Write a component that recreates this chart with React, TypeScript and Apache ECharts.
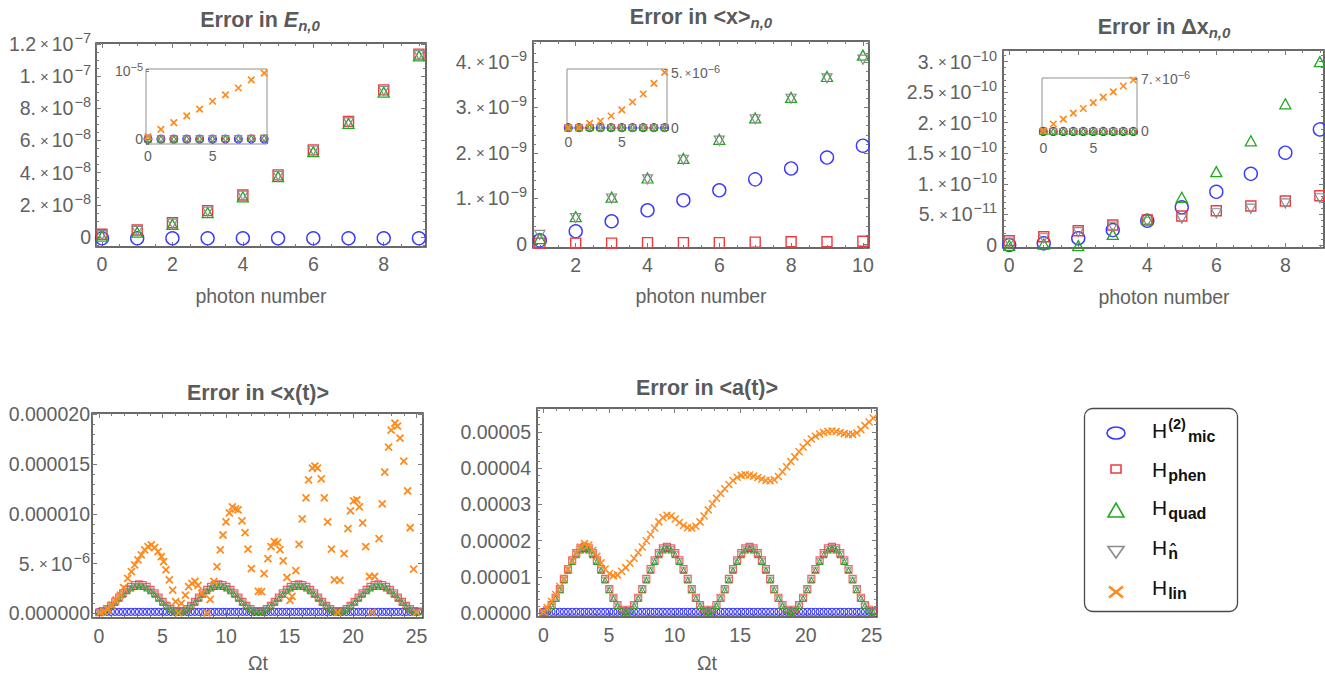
import React, { useEffect, useRef } from 'react';
import * as echarts from 'echarts';

const FONT = '"Liberation Sans", Arial, Helvetica, sans-serif';
const TXT = '#616161';
const TITLE_C = '#5a5a5a';
const FRAME = '#383838';
const TICK_C = '#7a7a7a';
const INSET_FRAME = '#8f8f8f';

const BLUE = '#3a3aff';
const RED = '#ee3b40';
const GREEN = '#22a622';
const GRAY = '#8c8c8c';
const ORANGE = '#ff8b1f';

// ---------------- photon-number panels ----------------
const nA = [0, 1, 2, 3, 4, 5, 6, 7, 8, 9];
const nB = [1, 2, 3, 4, 5, 6, 7, 8, 9, 10];
const nInset = [0, 1, 2, 3, 4, 5, 6, 7, 8, 9];

// Error in E_{n,0}  (units of 1e-8)
const eMic = [-0.08, -0.08, -0.08, -0.08, -0.08, -0.08, -0.08, -0.08, -0.08, -0.08];
const ePhen = [0.17, 0.44, 0.89, 1.64, 2.61, 3.86, 5.41, 7.17, 9.14, 11.36];
const eQuad = [0.05, 0.3, 0.78, 1.52, 2.5, 3.75, 5.3, 7.05, 9.0, 11.25];
const eNhat = [0.12, 0.38, 0.83, 1.58, 2.56, 3.8, 5.36, 7.12, 9.08, 11.3];
// inset (units of 1e-5)
const eLin = [0.034, 0.14, 0.24, 0.34, 0.44, 0.555, 0.65, 0.75, 0.87, 0.97];

// Error in <x>_{n,0}  (units of 1e-9)
const xMic = [0.08, 0.28, 0.5, 0.74, 0.96, 1.18, 1.42, 1.66, 1.9, 2.16];
const xPhen = [0.02, 0.02, 0.02, 0.03, 0.03, 0.03, 0.04, 0.05, 0.05, 0.06];
const xQuad = [0.12, 0.6, 1.03, 1.45, 1.88, 2.3, 2.77, 3.22, 3.68, 4.15];
const xNhat = [0.2, 0.57, 1.0, 1.42, 1.85, 2.27, 2.74, 3.19, 3.64, 4.05];
// inset (units of 1e-6)
const xLin = [0, 0.02, 0.4, 0.61, 1.07, 1.62, 2.35, 3.08, 4.06, 5.06];

// Error in Δx_{n,0}  (units of 1e-11)
const dMic = [0, 0.27, 1.1, 2.45, 3.97, 6.16, 8.7, 11.65, 15.1, 18.9];
const dPhen = [0.7, 1.36, 2.34, 3.27, 4.1, 4.74, 5.6, 6.37, 7.2, 8.06];
const dQuad = [-0.05, 0.15, -0.1, 1.74, 4.25, 7.8, 12.0, 17.05, 23.1, 30.0];
const dNhat = [0.4, 1.1, 2.1, 3.0, 3.8, 4.3, 5.2, 5.95, 6.8, 7.65];
// inset (units of 1e-6)
const dLin = [0.1, 1.0, 1.65, 2.45, 3.08, 3.88, 4.6, 5.3, 6.1, 6.9];

// ---------------- time panels ----------------
const times = [
  0, 0.31, 0.63, 0.94, 1.26, 1.57, 1.88, 2.2, 2.51, 2.83,
  3.14, 3.46, 3.77, 4.08, 4.4, 4.71, 5.03, 5.34, 5.65, 5.97,
  6.28, 6.6, 6.91, 7.23, 7.54, 7.85, 8.17, 8.48, 8.8, 9.11,
  9.42, 9.74, 10.05, 10.37, 10.68, 11.0, 11.31, 11.62, 11.94, 12.25,
  12.57, 12.88, 13.19, 13.51, 13.82, 14.14, 14.45, 14.77, 15.08, 15.39,
  15.71, 16.02, 16.34, 16.65, 16.96, 17.28, 17.59, 17.91, 18.22, 18.54,
  18.85, 19.16, 19.48, 19.79, 20.11, 20.42, 20.73, 21.05, 21.36, 21.68,
  21.99, 22.31, 22.62, 22.93, 23.25, 23.56, 23.88, 24.19, 24.5, 24.82,
  25.13,
];

// Error in <x(t)>  (units of 1e-6)
const xtMic = [
  0.15, 0.15, 0.15, 0.15, 0.15, 0.15, 0.15, 0.15, 0.15, 0.15,
  0.15, 0.15, 0.15, 0.15, 0.15, 0.15, 0.15, 0.15, 0.15, 0.15,
  0.15, 0.15, 0.15, 0.15, 0.15, 0.15, 0.15, 0.15, 0.15, 0.15,
  0.15, 0.15, 0.15, 0.15, 0.15, 0.15, 0.15, 0.15, 0.15, 0.15,
  0.15, 0.15, 0.15, 0.15, 0.15, 0.15, 0.15, 0.15, 0.15, 0.15,
  0.15, 0.15, 0.15, 0.15, 0.15, 0.15, 0.15, 0.15, 0.15, 0.15,
  0.15, 0.15, 0.15, 0.15, 0.15, 0.15, 0.15, 0.15, 0.15, 0.15,
  0.15, 0.15, 0.15, 0.15, 0.15, 0.15, 0.15, 0.15, 0.15, 0.15,
  0.15,
];
const xtPhen = [
  0.1, 0.26, 0.46, 0.78, 1.18, 1.6, 2.02, 2.39, 2.68, 2.87, 2.93, 2.87, 2.68, 2.39, 2.02, 1.6, 1.18, 0.78, 0.46, 0.26,
  0.2, 0.26, 0.46, 0.78, 1.18, 1.6, 2.02, 2.39, 2.68, 2.87, 2.93, 2.87, 2.68, 2.39, 2.02, 1.6, 1.18, 0.78, 0.46, 0.26,
  0.2, 0.26, 0.46, 0.78, 1.18, 1.6, 2.02, 2.39, 2.68, 2.87, 2.93, 2.87, 2.68, 2.39, 2.02, 1.6, 1.18, 0.78, 0.46, 0.26,
  0.2, 0.26, 0.46, 0.78, 1.18, 1.6, 2.02, 2.39, 2.68, 2.87, 2.93, 2.87, 2.68, 2.39, 2.02, 1.6, 1.18, 0.78, 0.46, 0.26,
  0.2,
];
const xtQuad = [
  0.05, 0.18, 0.38, 0.69, 1.07, 1.47, 1.87, 2.22, 2.49, 2.65, 2.7, 2.65, 2.49, 2.22, 1.87, 1.47, 1.07, 0.69, 0.38, 0.18,
  0.12, 0.18, 0.38, 0.69, 1.07, 1.47, 1.87, 2.22, 2.49, 2.65, 2.7, 2.65, 2.49, 2.22, 1.87, 1.47, 1.07, 0.69, 0.38, 0.18,
  0.12, 0.18, 0.38, 0.69, 1.07, 1.47, 1.87, 2.22, 2.49, 2.65, 2.7, 2.65, 2.49, 2.22, 1.87, 1.47, 1.07, 0.69, 0.38, 0.18,
  0.12, 0.18, 0.38, 0.69, 1.07, 1.47, 1.87, 2.22, 2.49, 2.65, 2.7, 2.65, 2.49, 2.22, 1.87, 1.47, 1.07, 0.69, 0.38, 0.18,
  0.12,
];
const xtNhat = [
  0.08, 0.22, 0.42, 0.74, 1.13, 1.54, 1.95, 2.31, 2.59, 2.77, 2.82, 2.77, 2.59, 2.31, 1.95, 1.54, 1.13, 0.74, 0.42, 0.22,
  0.16, 0.22, 0.42, 0.74, 1.13, 1.54, 1.95, 2.31, 2.59, 2.77, 2.82, 2.77, 2.59, 2.31, 1.95, 1.54, 1.13, 0.74, 0.42, 0.22,
  0.16, 0.22, 0.42, 0.74, 1.13, 1.54, 1.95, 2.31, 2.59, 2.77, 2.82, 2.77, 2.59, 2.31, 1.95, 1.54, 1.13, 0.74, 0.42, 0.22,
  0.16, 0.22, 0.42, 0.74, 1.13, 1.54, 1.95, 2.31, 2.59, 2.77, 2.82, 2.77, 2.59, 2.31, 1.95, 1.54, 1.13, 0.74, 0.42, 0.22,
  0.16,
];
const xtLinT = [
  0.1, 0.37, 0.71, 1.02, 1.34, 1.68, 1.94, 2.26, 2.55, 2.81,
  3.07, 3.33, 3.6, 3.86, 4.12, 4.38, 4.65, 4.91, 5.09, 5.27,
  5.54, 5.8, 6.03, 6.27, 6.48, 6.8, 7.06, 7.32, 7.55, 7.8,
  8.1, 8.5, 8.75, 9.05, 9.29, 9.55, 9.76, 10.0, 10.26, 10.5,
  10.75, 10.95, 11.26, 11.5, 11.73, 12.0, 12.55, 12.8, 13.0,
  13.3, 13.55, 13.8, 14.07, 14.25, 14.5, 14.8, 15.04, 15.2, 15.5,
  15.75, 16.0, 16.3, 16.5, 16.8, 17.0, 17.2, 17.5, 17.74, 18.0,
  18.3, 18.53, 18.8, 18.97, 19.3, 19.6, 19.8, 20.05, 20.3, 20.5,
  20.76, 21.0, 21.3, 21.5, 21.7, 22.05, 22.3, 22.5, 22.8, 23.0,
  23.3, 23.5, 23.7, 24.0, 24.3, 24.5, 24.77, 25.0,
];
const xtLinV = [
  0.1, 0.17, 0.43, 0.84, 1.34, 1.84, 2.58, 3.52, 4.19, 4.86,
  5.36, 5.87, 6.37, 6.7, 6.87, 6.6, 6.2, 5.7, 5.2, 4.36,
  3.35, 2.34, 1.17, 0.05, 1.0, 1.84, 2.68, 3.0, 3.2, 2.8,
  2.0, 0.05, 1.4, 3.2, 4.7, 6.37, 7.87, 9.2, 10.1, 10.7,
  10.5, 10.4, 9.3, 8.1, 6.45, 4.5, 2.2, 2.17, 4.0,
  5.5, 6.7, 7.2, 7.1, 6.4, 5.27, 3.6, 1.3, 1.7, 4.29,
  6.93, 9.48, 11.6, 13.4, 14.6, 14.8, 14.6, 13.5, 11.6, 9.2,
  6.46, 3.35, 0.1, 3.3, 6.0, 8.5, 10.3, 11.3, 11.4, 10.7,
  9.1, 6.7, 3.7, 0.1, 3.7, 7.5, 11.0, 14.2, 16.7, 18.4,
  19.1, 18.8, 17.6, 15.3, 12.3, 8.6, 4.45, 0.1,
];

// Error in <a(t)>  (units of 1e-5)
const atMic = [
  0.045, 0.045, 0.045, 0.045, 0.045, 0.045, 0.045, 0.045, 0.045, 0.045,
  0.045, 0.045, 0.045, 0.045, 0.045, 0.045, 0.045, 0.045, 0.045, 0.045,
  0.045, 0.045, 0.045, 0.045, 0.045, 0.045, 0.045, 0.045, 0.045, 0.045,
  0.045, 0.045, 0.045, 0.045, 0.045, 0.045, 0.045, 0.045, 0.045, 0.045,
  0.045, 0.045, 0.045, 0.045, 0.045, 0.045, 0.045, 0.045, 0.045, 0.045,
  0.045, 0.045, 0.045, 0.045, 0.045, 0.045, 0.045, 0.045, 0.045, 0.045,
  0.045, 0.045, 0.045, 0.045, 0.045, 0.045, 0.045, 0.045, 0.045, 0.045,
  0.045, 0.045, 0.045, 0.045, 0.045, 0.045, 0.045, 0.045, 0.045, 0.045,
  0.045,
];
const atPhen = [
  0.02, 0.1, 0.23, 0.43, 0.67, 0.95, 1.22, 1.46, 1.66, 1.79, 1.83, 1.79, 1.66, 1.46, 1.22, 0.95, 0.67, 0.43, 0.23, 0.1,
  0.06, 0.1, 0.23, 0.43, 0.67, 0.95, 1.22, 1.46, 1.66, 1.79, 1.83, 1.79, 1.66, 1.46, 1.22, 0.95, 0.67, 0.43, 0.23, 0.1,
  0.06, 0.1, 0.23, 0.43, 0.67, 0.95, 1.22, 1.46, 1.66, 1.79, 1.83, 1.79, 1.66, 1.46, 1.22, 0.95, 0.67, 0.43, 0.23, 0.1,
  0.06, 0.1, 0.23, 0.43, 0.67, 0.95, 1.22, 1.46, 1.66, 1.79, 1.83, 1.79, 1.66, 1.46, 1.22, 0.95, 0.67, 0.43, 0.23, 0.1,
  0.06,
];
const atQuad = [
  0.01, 0.08, 0.21, 0.41, 0.64, 0.91, 1.18, 1.42, 1.61, 1.74, 1.78, 1.74, 1.61, 1.42, 1.18, 0.91, 0.64, 0.41, 0.21, 0.08,
  0.04, 0.08, 0.21, 0.41, 0.64, 0.91, 1.18, 1.42, 1.61, 1.74, 1.78, 1.74, 1.61, 1.42, 1.18, 0.91, 0.64, 0.41, 0.21, 0.08,
  0.04, 0.08, 0.21, 0.41, 0.64, 0.91, 1.18, 1.42, 1.61, 1.74, 1.78, 1.74, 1.61, 1.42, 1.18, 0.91, 0.64, 0.41, 0.21, 0.08,
  0.04, 0.08, 0.21, 0.41, 0.64, 0.91, 1.18, 1.42, 1.61, 1.74, 1.78, 1.74, 1.61, 1.42, 1.18, 0.91, 0.64, 0.41, 0.21, 0.08,
  0.04,
];
const atNhat = [
  0.015, 0.09, 0.22, 0.42, 0.66, 0.93, 1.2, 1.44, 1.64, 1.77, 1.81, 1.77, 1.64, 1.44, 1.2, 0.93, 0.66, 0.42, 0.22, 0.09,
  0.05, 0.09, 0.22, 0.42, 0.66, 0.93, 1.2, 1.44, 1.64, 1.77, 1.81, 1.77, 1.64, 1.44, 1.2, 0.93, 0.66, 0.42, 0.22, 0.09,
  0.05, 0.09, 0.22, 0.42, 0.66, 0.93, 1.2, 1.44, 1.64, 1.77, 1.81, 1.77, 1.64, 1.44, 1.2, 0.93, 0.66, 0.42, 0.22, 0.09,
  0.05, 0.09, 0.22, 0.42, 0.66, 0.93, 1.2, 1.44, 1.64, 1.77, 1.81, 1.77, 1.64, 1.44, 1.2, 0.93, 0.66, 0.42, 0.22, 0.09,
  0.05,
];
const atLin = [
  0.04, 0.16, 0.33, 0.52, 0.74, 0.96, 1.22, 1.45, 1.66, 1.83,
  1.92, 1.88, 1.74, 1.57, 1.39, 1.22, 1.09, 1.04, 1.06, 1.16,
  1.26, 1.38, 1.52, 1.67, 1.83, 2.0, 2.17, 2.35, 2.52, 2.64,
  2.7, 2.68, 2.6, 2.5, 2.42, 2.36, 2.35, 2.4, 2.52, 2.68,
  2.85, 3.02, 3.17, 3.3, 3.43, 3.55, 3.66, 3.75, 3.8, 3.82,
  3.81, 3.78, 3.74, 3.7, 3.66, 3.65, 3.68, 3.77, 3.9, 4.04,
  4.18, 4.31, 4.45, 4.58, 4.7, 4.8, 4.88, 4.94, 4.98, 5.01,
  5.02, 5.01, 4.98, 4.95, 4.93, 4.93, 4.97, 5.06, 5.17, 5.27,
  5.38,
];

// ---------------- tick labels ----------------
const p1XTicks = [0, 2, 4, 6, 8];
const p1YTicks = [0, 2, 4, 6, 8, 10, 12];
const p1YMant = ['0', '2.', '4.', '6.', '8.', '1.', '1.2'];
const p1YExp = ['', '−8', '−8', '−8', '−8', '−7', '−7'];
const p2XTicks = [2, 4, 6, 8, 10];
const p2YTicks = [0, 1, 2, 3, 4];
const p2YMant = ['0', '1.', '2.', '3.', '4.'];
const p2YExp = ['', '−9', '−9', '−9', '−9'];
const p3XTicks = [0, 2, 4, 6, 8];
const p3YTicks = [0, 5, 10, 15, 20, 25, 30];
const p3YMant = ['0', '5.', '1.', '1.5', '2.', '2.5', '3.'];
const p3YExp = ['', '−11', '−10', '−10', '−10', '−10', '−10'];
const insetXTicks = [0, 5];
const in1YTicks = [0, 1];
const in1YMant = ['0', ''];
const in1YExp = ['', '−5'];
const in2YTicks = [0, 5];
const in2YMant = ['0', '5.'];
const in2YExp = ['', '−6'];
const in3YTicks = [0, 7];
const in3YMant = ['0', '7.'];
const in3YExp = ['', '−6'];
const tXTicks = [0, 5, 10, 15, 20, 25];
const p4YTicks = [0, 5, 10, 15, 20];
const p4YMant = ['0.000000', '5.', '0.000010', '0.000015', '0.000020'];
const p4YExp = ['', '−6', '', '', ''];
const p5YTicks = [0, 1, 2, 3, 4, 5];
const p5YMant = ['0.00000', '0.00001', '0.00002', '0.00003', '0.00004', '0.00005'];
const p5YExp = ['', '', '', '', '', ''];

const titles = [
  { x: 260, y: 20, text: '{t|Error in }{i|E}{b|n,0}' },
  { x: 701, y: 17, text: '{t|Error in <x>}{b|n,0}' },
  { x: 1164, y: 27, text: '{t|Error in Δx}{b|n,0}' },
  { x: 258, y: 393, text: '{t|Error in <x(t)>}' },
  { x: 707, y: 388, text: '{t|Error in <a(t)>}' },
];
const axisNames = [
  { x: 261, y: 296, text: 'photon number' },
  { x: 701, y: 296, text: 'photon number' },
  { x: 1164, y: 297, text: 'photon number' },
  { x: 258, y: 663, text: 'Ωt' },
  { x: 707, y: 663, text: 'Ωt' },
];
const legendSup = ['(2)', '', '', '', ''];
const legendSub = ['mic', 'phen', 'quad', 'n\u0302', 'lin'];

// ---------------- option building ----------------
const KIND: any = {
  mic: { symbol: 'circle', color: BLUE, rot: 0 },
  phen: { symbol: 'rect', color: RED, rot: 0 },
  quad: { symbol: 'triangle', color: GREEN, rot: 0 },
  nhat: { symbol: 'triangle', color: GRAY, rot: 180 },
  lin: { symbol: 'path://M0,0L10,10M10,0L0,10', color: ORANGE, rot: 0 },
};

function fmt(ticks: number[], mant: string[], exps: string[], pre: string) {
  return (v: number) => {
    const i = ticks.findIndex((t) => Math.abs(t - v) < 1e-7);
    if (i < 0) return '';
    const e = exps[i];
    if (!e) return `{${pre}m|${mant[i]}}`;
    const head = mant[i] ? `{${pre}m|${mant[i]}}{${pre}x|×}` : '';
    return `${head}{${pre}m|10}{${pre}s|${e}}`;
  };
}

function buildOption() {
  const grids: any[] = [];
  const xAxes: any[] = [];
  const yAxes: any[] = [];
  const series: any[] = [];

  const mainRich = {
    m: { fontSize: 19.5, color: TXT, fontFamily: FONT, verticalAlign: 'middle' },
    x: { fontSize: 15, color: TXT, fontFamily: FONT, padding: [0, 3, 0, 4], verticalAlign: 'middle' },
    s: { fontSize: 14.5, color: TXT, fontFamily: FONT, padding: [0, 0, 12, 1], verticalAlign: 'middle' },
  };
  const insetRich = {
    im: { fontSize: 14, color: TXT, fontFamily: FONT, verticalAlign: 'middle' },
    ix: { fontSize: 11, color: TXT, fontFamily: FONT, padding: [0, 1, 0, 2], verticalAlign: 'middle' },
    is: { fontSize: 11, color: TXT, fontFamily: FONT, padding: [0, 0, 9, 0], verticalAlign: 'middle' },
  };

  function axis(gi: number, position: string, min: number, max: number, step: number, minor: number, tickLen: number, label: any) {
    return {
      type: 'value',
      gridIndex: gi,
      position,
      min,
      max,
      minInterval: step,
      maxInterval: step,
      splitNumber: 5,
      axisLine: { show: false, onZero: false },
      splitLine: { show: false },
      axisTick: { show: true, inside: true, length: tickLen, lineStyle: { color: TICK_C, width: 1 } },
      minorTick: { show: minor > 1, splitNumber: minor || 2, length: Math.round(tickLen * 0.55), lineStyle: { color: TICK_C, width: 1 } },
      axisLabel: label ? { show: true, ...label } : { show: false },
      axisPointer: { show: false },
      silent: true,
    };
  }

  function lbl(ticks: number[], mant: string[], exps: string[], margin: number, inset = false) {
    return {
      margin,
      formatter: fmt(ticks, mant, exps, inset ? 'i' : ''),
      rich: inset ? insetRich : mainRich,
      color: TXT,
      fontFamily: FONT,
      fontSize: inset ? 14 : 19.5,
    };
  }
  const numLabels = (t: number[]) => t.map((v) => String(v));
  const noExp = (t: number[]) => t.map(() => '');

  function mainPanel(rect: number[], xr: any, yr: any) {
    const gi = grids.length;
    grids.push({
      left: rect[0], top: rect[1], width: rect[2], height: rect[3],
      show: true, borderColor: FRAME, borderWidth: 1.5, backgroundColor: 'rgba(0,0,0,0)',
      containLabel: false, outerBoundsMode: 'none',
    });
    const xi = xAxes.length;
    xAxes.push(axis(gi, 'bottom', xr.min, xr.max, xr.step, xr.minor, 5, lbl(xr.ticks, numLabels(xr.ticks), noExp(xr.ticks), xr.margin)));
    xAxes.push(axis(gi, 'top', xr.min, xr.max, xr.step, xr.minor, 5, null));
    const yi = yAxes.length;
    yAxes.push(axis(gi, 'left', yr.min, yr.max, yr.step, yr.minor, 5, lbl(yr.ticks, yr.mant, yr.exps, yr.margin)));
    yAxes.push(axis(gi, 'right', yr.min, yr.max, yr.step, yr.minor, 5, null));
    return { xi, yi };
  }

  function insetPanel(rect: number[], xr: any, yr: any, ySide: string) {
    const gi = grids.length;
    grids.push({
      left: rect[0], top: rect[1], width: rect[2], height: rect[3],
      show: true, borderColor: INSET_FRAME, borderWidth: 1, backgroundColor: '#ffffff',
      containLabel: false, outerBoundsMode: 'none',
    });
    const xi = xAxes.length;
    xAxes.push(axis(gi, 'bottom', xr.min, xr.max, 5, 0, 3, lbl(insetXTicks, numLabels(insetXTicks), noExp(insetXTicks), xr.margin, true)));
    const yi = yAxes.length;
    yAxes.push(axis(gi, ySide, yr.min, yr.max, yr.step, 0, 3, lbl(yr.ticks, yr.mant, yr.exps, yr.margin, true)));
    return { xi, yi };
  }

  function sc(ax: any, xs: number[], ys: number[], kind: string, size: any, bw: number, opacity = 1) {
    const k = KIND[kind];
    const n = Math.min(xs.length, ys.length);
    const data: number[][] = [];
    for (let i = 0; i < n; i++) data.push([xs[i], ys[i]]);
    series.push({
      type: 'scatter',
      xAxisIndex: ax.xi,
      yAxisIndex: ax.yi,
      data,
      symbol: k.symbol,
      symbolRotate: k.rot,
      symbolSize: size,
      itemStyle: { color: 'rgba(0,0,0,0)', borderColor: k.color, borderWidth: bw, opacity },
      silent: true,
      emphasis: { disabled: true },
    });
  }

  const scale = (arr: number[], f: number) => arr.map((v) => v * f);

  // ---- Panel 1 ----
  const a1 = mainPanel([96, 43, 330, 204],
    { min: -0.17, max: 9.2, step: 2, minor: 4, ticks: p1XTicks, margin: 7 },
    { min: -0.62, max: 12.05, step: 2, minor: 4, ticks: p1YTicks, mant: p1YMant, exps: p1YExp, margin: 5 });
  sc(a1, nA, eMic, 'mic', 13, 1.4);
  sc(a1, nA, ePhen, 'phen', 10, 1.4);
  sc(a1, nA, eQuad, 'quad', [11, 10], 1.3);
  sc(a1, nA, eNhat, 'nhat', [10, 9], 1.2);
  const i1 = insetPanel([146, 69, 121, 75], { min: -0.155, max: 9.22, margin: 5 },
    { min: -0.074, max: 1.03, step: 1, ticks: in1YTicks, mant: in1YMant, exps: in1YExp, margin: 3 }, 'left');
  sc(i1, nInset, scale(eMic, 0.001), 'mic', 8, 1.1);
  sc(i1, nInset, scale(ePhen, 0.001), 'phen', 6, 1.1);
  sc(i1, nInset, scale(eQuad, 0.001), 'quad', [7, 6], 1);
  sc(i1, nInset, scale(eNhat, 0.001), 'nhat', [7, 6], 1);
  sc(i1, nInset, eLin, 'lin', 6.5, 1.7);

  // ---- Panel 2 ----
  const a2 = mainPanel([533, 41, 336, 207],
    { min: 0.81, max: 10.17, step: 2, minor: 4, ticks: p2XTicks, margin: 7 },
    { min: -0.088, max: 4.46, step: 1, minor: 5, ticks: p2YTicks, mant: p2YMant, exps: p2YExp, margin: 6 });
  sc(a2, nB, xMic, 'mic', 13, 1.4);
  sc(a2, nB, xPhen, 'phen', 10, 1.4);
  sc(a2, nB, xQuad, 'quad', [11, 10], 1.3);
  sc(a2, nB, xNhat, 'nhat', [10, 9], 1.2);
  const i2 = insetPanel([567, 69, 100, 59], { min: -0.12, max: 9.22, margin: 7 },
    { min: -0.03, max: 5.37, step: 5, ticks: in2YTicks, mant: in2YMant, exps: in2YExp, margin: 4 }, 'right');
  sc(i2, nInset, scale(xMic, 0.001), 'mic', 8, 1.1);
  sc(i2, nInset, scale(xPhen, 0.001), 'phen', 6, 1.1);
  sc(i2, nInset, scale(xQuad, 0.001), 'quad', [7, 6], 1);
  sc(i2, nInset, scale(xNhat, 0.001), 'nhat', [7, 6], 1);
  sc(i2, nInset, xLin, 'lin', 6.5, 1.7);

  // ---- Panel 3 ----
  const a3 = mainPanel([1003, 50, 321, 198],
    { min: -0.18, max: 9.12, step: 2, minor: 4, ticks: p3XTicks, margin: 7 },
    { min: -0.49, max: 31.9, step: 5, minor: 5, ticks: p3YTicks, mant: p3YMant, exps: p3YExp, margin: 6 });
  sc(a3, nA, dMic, 'mic', 13, 1.4);
  sc(a3, nA, dPhen, 'phen', 10, 1.4);
  sc(a3, nA, dQuad, 'quad', [11, 10], 1.3);
  sc(a3, nA, dNhat, 'nhat', [10, 9], 1.2);
  const i3 = insetPanel([1042, 78, 95, 56], { min: -0.13, max: 9.37, margin: 7 },
    { min: -0.34, max: 7.17, step: 7, ticks: in3YTicks, mant: in3YMant, exps: in3YExp, margin: 4 }, 'right');
  sc(i3, nInset, scale(dMic, 0.00001), 'mic', 8, 1.1);
  sc(i3, nInset, scale(dPhen, 0.00001), 'phen', 6, 1.1);
  sc(i3, nInset, scale(dQuad, 0.00001), 'quad', [7, 6], 1);
  sc(i3, nInset, scale(dNhat, 0.00001), 'nhat', [7, 6], 1);
  sc(i3, nInset, dLin, 'lin', 6.5, 1.7);

  // ---- Panel 4 : <x(t)> ----
  const a4 = mainPanel([92, 413, 331, 205],
    { min: -0.55, max: 25.51, step: 5, minor: 5, ticks: tXTicks, margin: 8 },
    { min: -0.47, max: 20.13, step: 5, minor: 5, ticks: p4YTicks, mant: p4YMant, exps: p4YExp, margin: 2 });
  sc(a4, times, xtMic, 'mic', 7, 1.1);
  sc(a4, times, xtPhen, 'phen', 6.5, 1.2, 0.8);
  sc(a4, times, xtQuad, 'quad', [5.5, 5], 1);
  sc(a4, times, xtNhat, 'nhat', [5, 4.5], 0.9);
  sc(a4, xtLinT, xtLinV, 'lin', 7, 1.8);

  // ---- Panel 5 : <a(t)> ----
  const a5 = mainPanel([537, 408, 340, 209],
    { min: -0.48, max: 25.42, step: 5, minor: 5, ticks: tXTicks, margin: 8 },
    { min: -0.1, max: 5.656, step: 1, minor: 5, ticks: p5YTicks, mant: p5YMant, exps: p5YExp, margin: 6 });
  sc(a5, times, atMic, 'mic', 7, 1.1);
  sc(a5, times, atPhen, 'phen', 7, 1.2, 0.8);
  sc(a5, times, atQuad, 'quad', [6, 5.5], 1);
  sc(a5, times, atNhat, 'nhat', [5.5, 5], 0.9);
  sc(a5, times, atLin, 'lin', 7, 1.5);

  // ---- graphic: titles, axis names, legend ----
  const titleRich = {
    t: { fontSize: 21.5, fontWeight: 'bold', fontFamily: FONT, fill: TITLE_C, lineHeight: 26, verticalAlign: 'middle' },
    i: { fontSize: 21.5, fontWeight: 'bold', fontStyle: 'italic', fontFamily: FONT, fill: TITLE_C, lineHeight: 26, verticalAlign: 'middle' },
    b: { fontSize: 15, fontWeight: 'bold', fontStyle: 'italic', fontFamily: FONT, fill: TITLE_C, lineHeight: 18, padding: [10, 0, 0, 0], verticalAlign: 'middle' },
  };
  const graphic: any[] = [];
  titles.forEach((t) => {
    graphic.push({
      type: 'text', x: t.x, y: t.y, silent: true,
      style: { text: t.text, rich: titleRich, align: 'center', verticalAlign: 'middle', textAlign: 'center', textVerticalAlign: 'middle' },
    });
  });
  axisNames.forEach((t) => {
    graphic.push({
      type: 'text', x: t.x, y: t.y, silent: true,
      style: { text: t.text, fill: TXT, fontSize: 19.5, fontFamily: FONT, align: 'center', verticalAlign: 'middle', textAlign: 'center', textVerticalAlign: 'middle' },
    });
  });

  // legend box
  graphic.push({
    type: 'rect', silent: true,
    shape: { x: 1084.5, y: 408.5, width: 153, height: 203, r: 8 },
    style: { fill: '#ffffff', stroke: '#4a4a4a', lineWidth: 1.3 },
  });
  const mx = 1116;
  const rowsY = [433, 469, 510, 552, 592];
  const textY = [430, 469, 507, 547, 587];
  graphic.push({ type: 'ellipse', silent: true, shape: { cx: mx, cy: rowsY[0], rx: 9, ry: 6 }, style: { fill: 'none', stroke: BLUE, lineWidth: 1.6 } });
  graphic.push({ type: 'rect', silent: true, shape: { x: mx - 5, y: rowsY[1] - 4, width: 10, height: 8 }, style: { fill: 'none', stroke: RED, lineWidth: 1.6 } });
  graphic.push({ type: 'polygon', silent: true, shape: { points: [[mx - 8, rowsY[2] + 7], [mx + 8, rowsY[2] + 7], [mx, rowsY[2] - 7]] }, style: { fill: 'none', stroke: GREEN, lineWidth: 1.6 } });
  graphic.push({ type: 'polygon', silent: true, shape: { points: [[mx - 8, rowsY[3] - 5.5], [mx + 8, rowsY[3] - 5.5], [mx, rowsY[3] + 6]] }, style: { fill: 'none', stroke: GRAY, lineWidth: 1.6 } });
  graphic.push({ type: 'line', silent: true, shape: { x1: mx - 7, y1: rowsY[4] - 5.5, x2: mx + 7, y2: rowsY[4] + 5.5 }, style: { stroke: ORANGE, lineWidth: 2.6 } });
  graphic.push({ type: 'line', silent: true, shape: { x1: mx + 7, y1: rowsY[4] - 5.5, x2: mx - 7, y2: rowsY[4] + 5.5 }, style: { stroke: ORANGE, lineWidth: 2.6 } });

  const legRich = {
    h: { fontSize: 21, fontFamily: FONT, fill: '#111111', lineHeight: 24, verticalAlign: 'middle' },
    p: { fontSize: 14.5, fontWeight: 'bold', fontFamily: FONT, fill: '#111111', lineHeight: 16, padding: [0, 1, 12, 1], verticalAlign: 'middle' },
    b: { fontSize: 16, fontWeight: 'bold', fontFamily: FONT, fill: '#111111', lineHeight: 18, padding: [12, 0, 0, 1], verticalAlign: 'middle' },
  };
  legendSub.forEach((sub, i) => {
    const sup = legendSup[i] ? `{p|${legendSup[i]}}` : '';
    graphic.push({
      type: 'text', x: 1152, y: textY[i], silent: true,
      style: { text: `{h|H}${sup}{b|${sub}}`, rich: legRich, align: 'left', verticalAlign: 'middle', textAlign: 'left', textVerticalAlign: 'middle' },
    });
  });

  return {
    animation: false,
    backgroundColor: '#ffffff',
    textStyle: { fontFamily: FONT },
    tooltip: { show: false },
    grid: grids,
    xAxis: xAxes,
    yAxis: yAxes,
    series,
    graphic,
  };
}

export default function App() {
  const ref = useRef<HTMLDivElement>(null);
  useEffect(() => {
    if (!ref.current) return;
    const chart = echarts.init(ref.current, undefined, { renderer: 'svg' });
    chart.setOption(buildOption() as any);
    return () => {
      chart.dispose();
    };
  }, []);
  return (
    <div
      ref={ref}
      style={{ position: 'absolute', left: 0, top: 0, width: 1325, height: 675, background: '#ffffff' }}
    />
  );
}
